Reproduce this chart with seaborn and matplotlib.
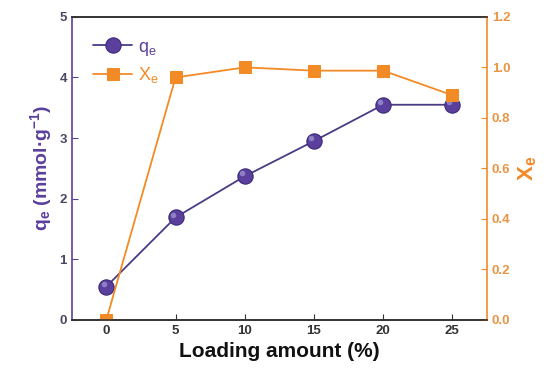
import matplotlib
matplotlib.use("Agg")
import matplotlib.pyplot as plt
import matplotlib.transforms as mtransforms
import pandas as pd
import seaborn as sns

# data
loading = [0, 5, 10, 15, 20, 25]
qe = [0.55, 1.69, 2.37, 2.95, 3.55, 3.55]
xe = [0.0, 0.96, 1.0, 0.987, 0.987, 0.89]

df = pd.DataFrame({"loading": loading, "qe": qe, "xe": xe})

purple = "#5a3f9c"
orange = "#f28a26"

sns.set_style("ticks")
plt.rcParams["font.family"] = ["Liberation Sans", "DejaVu Sans"]
plt.rcParams["font.weight"] = "bold"
plt.rcParams["mathtext.default"] = "regular"
plt.rcParams["xtick.direction"] = "in"
plt.rcParams["ytick.direction"] = "in"

fig = plt.figure(figsize=(5.52, 3.75), dpi=100)
ax = fig.add_axes([0.130, 0.147, 0.752, 0.808])
ax2 = ax.twinx()

sns.lineplot(data=df, x="loading", y="qe", ax=ax, color="#4a3b86", lw=1.3,
             marker="o", markersize=11, markerfacecolor=purple,
             markeredgecolor="#3b2a78", markeredgewidth=0.8, label="q$_e$", legend=False)
# small highlight to give the spheres some shading
shift = mtransforms.ScaledTranslation(-2 / 72, 2 / 72, fig.dpi_scale_trans)
ax.plot(df["loading"], df["qe"], "o", ms=4, color="#8f80c6", mec="none",
        transform=ax.transData + shift, zorder=3)

sns.lineplot(data=df, x="loading", y="xe", ax=ax2, color=orange, lw=1.3,
             marker="s", markersize=9, markerfacecolor=orange,
             markeredgecolor=orange, label="X$_e$", legend=False)

ax.set_xlim(-2.5, 27.5)
ax.set_ylim(0, 5)
ax2.set_ylim(0, 1.2)
ax.set_xticks(loading)
ax.set_yticks([0, 1, 2, 3, 4, 5])
ax2.set_yticks([0, 0.2, 0.4, 0.6, 0.8, 1.0, 1.2])
ax2.set_yticklabels(["0.0", "0.2", "0.4", "0.6", "0.8", "1.0", "1.2"])

ax.set_xlabel("Loading amount (%)", fontsize=15, fontweight="bold", color="#111111")
ax.set_ylabel("q$_e$ (mmol·g$^{-1}$)", fontsize=14,
              fontweight="bold", color=purple)
ax2.set_ylabel("X$_e$", fontsize=16, fontweight="bold", color=orange)

ax.tick_params(axis="x", labelsize=9.5, colors="#333333", length=4)
ax.tick_params(axis="y", labelsize=9.5, labelcolor="#4d4660", color=purple, length=4)
ax2.tick_params(axis="y", labelsize=9.5, labelcolor="#e99445", color=orange, length=4)

for a in (ax, ax2):
    a.spines["top"].set_color("#333333")
    a.spines["bottom"].set_color("#333333")
    a.spines["left"].set_color(purple)
    a.spines["right"].set_color(orange)
    for s in a.spines.values():
        s.set_linewidth(1.2)
ax2.spines["left"].set_visible(False)
ax.spines["right"].set_visible(False)

h1, l1 = ax.get_legend_handles_labels()
h2, l2 = ax2.get_legend_handles_labels()
leg = ax.legend(h1[:1] + h2, l1[:1] + l2, loc="upper left", frameon=False, fontsize=13,
                handlelength=2.2, handletextpad=0.3, borderaxespad=0.3,
                labelspacing=0.4, bbox_to_anchor=(0.02, 0.97))
for t, c in zip(leg.get_texts(), [purple, orange]):
    t.set_color(c)
    t.set_fontweight("normal")

fig.savefig("out.png", dpi=100)
